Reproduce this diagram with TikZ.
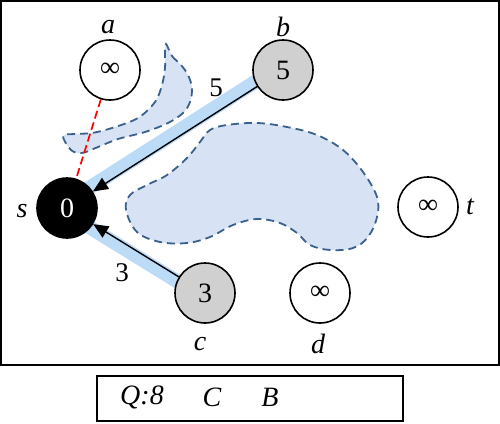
\documentclass[tikz,border=0pt]{standalone}
\usepackage{fontspec}
\setmainfont{Liberation Serif}
\usetikzlibrary{arrows.meta,backgrounds}
\definecolor{bandblue}{RGB}{187,219,247}
\definecolor{blobfill}{RGB}{216,226,245}
\definecolor{blobline}{RGB}{58,96,140}
\definecolor{nodegray}{RGB}{208,208,208}
\tikzset{
  vtx/.style={circle,draw,line width=1.6pt,minimum size=60pt,inner sep=0pt,fill=white,font=\fontsize{28}{32}\selectfont},
  lbl/.style={font=\fontsize{28}{32}\selectfont\itshape,inner sep=0pt},
  elbl/.style={font=\fontsize{27}{30}\selectfont,inner sep=0pt},
  band/.style={line width=14pt,draw=bandblue},
  arr/.style={line width=1.4pt,-{Triangle[length=15pt,width=13pt]}},
  reddash/.style={line width=1.7pt,draw=red,dash pattern=on 8pt off 4pt},
  blob/.style={fill=blobfill,draw=blobline,line width=1.8pt,dash pattern=on 8pt off 5pt},
  frame/.style={draw,line width=2pt}
}
\begin{document}
\begin{tikzpicture}[x=1pt,y=-1pt]
\useasboundingbox (0,0) rectangle (500,423);
\draw[frame] (1,1) rectangle (498.5,365);
\draw[frame] (97,376) rectangle (403,421);
% vertices
\node[vtx] (a) at (110,70) {∞};
\node[vtx,fill=nodegray] (b) at (283,70) {5};
\node[vtx,fill=black,text=white] (s) at (67,208) {0};
\node[vtx] (t) at (428,207) {∞};
\node[vtx,fill=nodegray] (c) at (205,293) {3};
\node[vtx] (d) at (320,293) {∞};
% vertex labels
\node[lbl] (la) at (108,27) {a};
\node[lbl] (lb) at (283,27) {b};
\node[lbl] (ls) at (22,211) {s};
\node[lbl] (lt) at (470,207) {t};
\node[lbl] (lc) at (200,344) {c};
\node[lbl] (ld) at (318,344) {d};
% background shapes
\begin{pgfonlayer}{background}
\draw[blob] plot[smooth cycle,tension=0.55] coordinates {
 (166,44) (172,56) (181,65) (188,75) (192,88) (190,102) (183,113) (168,123) (145,132) (118,139) (98,147) (82,153) (71,150) (63,136)
 (75,134) (92,133) (112,128) (138,118) (155,102) (162,85) (165,68) (165,54)};
\draw[blob] plot[smooth cycle,tension=0.6] coordinates {
 (227,125) (257,123) (287,127) (317,135) (343,150) (363,172) (377,197) (377,217) (368,237) (353,248) (330,250)
 (310,245) (297,233) (280,223) (257,219) (233,225) (210,237) (187,243) (160,242) (137,232) (126,210) (130,195)
 (147,185) (167,175) (187,158) (200,142) (210,130)};
\draw[band] ([shift={(-2.7,-4.2)}]s.center) -- ([shift={(-2.7,-4.2)}]b.center);
\draw[band] ([shift={(-2.3,4)}]s.center) -- ([shift={(-2.3,4)}]c.center);
\end{pgfonlayer}
% connectors
\draw[reddash] (a) -- (s);
\draw[arr] (b) -- (s);
\draw[arr] (c) -- (s);
\node[elbl] (w5) at (216,88) {5};
\node[elbl] (w3) at (122,273) {3};
% queue
\node[lbl] (q) at (142,397) {Q:8};
\node[lbl] (qc) at (212,397) {C};
\node[lbl] (qb) at (270,397) {B};
\end{tikzpicture}
\end{document}
